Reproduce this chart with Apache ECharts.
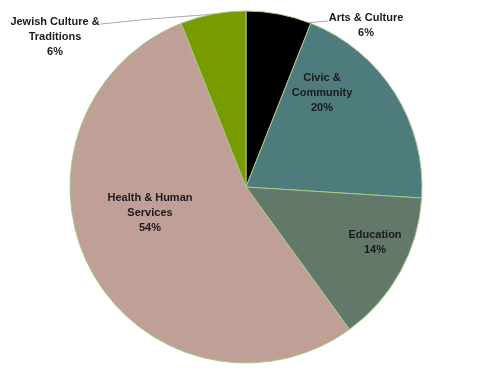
<!DOCTYPE html>
<html><head><meta charset="utf-8">
<script src="https://cdn.jsdelivr.net/npm/echarts@6/dist/echarts.min.js"></script>
<style>html,body{margin:0;padding:0;background:#fff}#c{width:492px;height:374px}</style>
</head><body><div id="c"></div>
<script>
const categories = ['Arts & Culture', 'Civic &\nCommunity', 'Education', 'Health & Human\nServices', 'Jewish Culture &\nTraditions'];
const values = [6, 20, 14, 54, 6];
const colors = ['#000000', '#4e7c7d', '#627868', '#bf9f96', '#789b00'];
const labelPos = [[366, 25, true], [322, 93], [375, 242], [150, 213], [55, 37, true]];

const chart = echarts.init(document.getElementById('c'));
chart.setOption({
  animation: false,
  series: [{
    type: 'pie',
    center: [246, 187],
    radius: [0, 176],
    startAngle: 90,
    clockwise: true,
    data: categories.map((n, i) => ({ name: n, value: values[i], itemStyle: { color: colors[i] },
      label: { position: labelPos[i][2] ? 'outside' : 'inside' },
      labelLine: { show: !!labelPos[i][2] } })),
    itemStyle: { borderColor: '#a8c888', borderWidth: 1 },
    label: {
      formatter: '{b}\n{d}%',
      fontFamily: 'Liberation Sans, Arial, sans-serif',
      fontWeight: 'bold', fontSize: 11, lineHeight: 15, color: '#1a1a1a', align: 'center'
    },
    labelLine: { lineStyle: { color: '#a6a6a6', width: 1 }, length: 10, length2: 10 },
    labelLayout: function (p) {
      const pos = labelPos[p.dataIndex];
      const r = { x: pos[0], y: pos[1], align: 'center', verticalAlign: 'middle' };
      if (p.dataIndex === 0) r.labelLinePoints = [[306, 23], [317, 22], [328, 21]];
      if (p.dataIndex === 4) r.labelLinePoints = [[228, 13], [150, 19], [101, 24]];
      return r;
    }
  }]
});
</script></body></html>
